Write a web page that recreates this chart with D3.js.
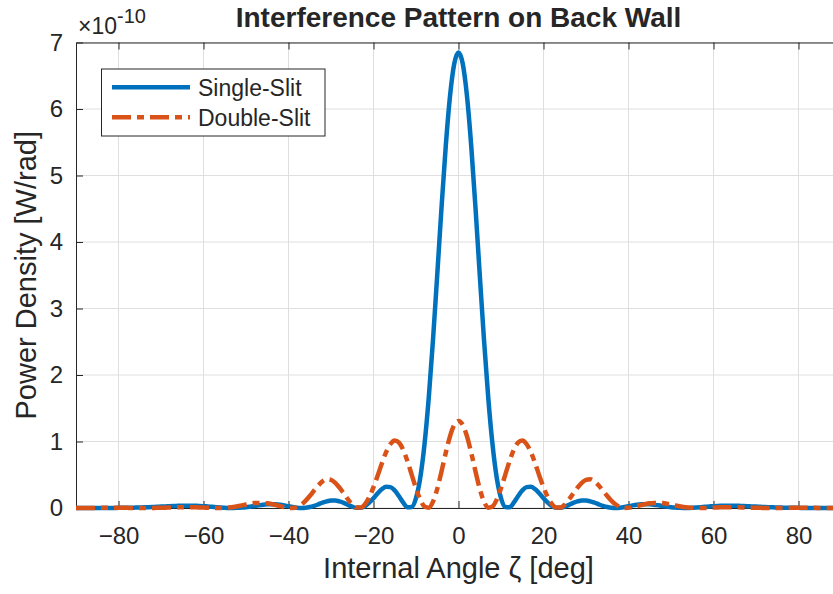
<!DOCTYPE html>
<html>
<head>
<meta charset="utf-8">
<script src="https://cdn.jsdelivr.net/npm/d3@7"></script>
<style>
  body { margin: 0; background: #fff; }
  svg { display: block; }
  text { font-family: "Liberation Sans", Arial, Helvetica, sans-serif; fill: #262626; }
</style>
</head>
<body>
<svg id="chart" width="833" height="594"></svg>
<script>
// Sample angles (deg) for both curves
const angleDeg = d3.range(-90, 91, 1);

// Power density in units of 1e-10 W/rad, one value per degree from -90 to 90
const singleSlit = [
  0.000, 0.000, 0.000, 0.000, 0.000, 0.000, 0.000, 0.000, 0.001, 0.001,
  0.002, 0.002, 0.003, 0.005, 0.006, 0.008, 0.010, 0.012, 0.015, 0.018,
  0.021, 0.024, 0.027, 0.030, 0.032, 0.034, 0.034, 0.034, 0.033, 0.031,
  0.028, 0.023, 0.018, 0.013, 0.008, 0.004, 0.001, 0.000, 0.002, 0.006,
  0.012, 0.021, 0.031, 0.040, 0.049, 0.055, 0.057, 0.055, 0.049, 0.039,
  0.026, 0.014, 0.004, 0.000, 0.003, 0.014, 0.032, 0.055, 0.079, 0.099,
  0.111, 0.112, 0.099, 0.077, 0.047, 0.019, 0.002, 0.004, 0.030, 0.082,
  0.148, 0.222, 0.285, 0.320, 0.314, 0.264, 0.177, 0.080, 0.010, 0.016,
  0.149, 0.452, 0.957, 1.658, 2.528, 3.508, 4.512, 5.440, 6.192, 6.680,
  6.850,
  6.680, 6.192, 5.440, 4.512, 3.508, 2.528, 1.658, 0.957, 0.452, 0.149,
  0.016, 0.010, 0.080, 0.177, 0.264, 0.314, 0.320, 0.285, 0.222, 0.148,
  0.082, 0.030, 0.004, 0.002, 0.019, 0.047, 0.077, 0.099, 0.112, 0.111,
  0.099, 0.079, 0.055, 0.032, 0.014, 0.003, 0.000, 0.004, 0.014, 0.026,
  0.039, 0.049, 0.055, 0.057, 0.055, 0.049, 0.040, 0.031, 0.021, 0.012,
  0.006, 0.002, 0.000, 0.001, 0.004, 0.008, 0.013, 0.018, 0.023, 0.028,
  0.031, 0.033, 0.034, 0.034, 0.034, 0.032, 0.030, 0.027, 0.024, 0.021,
  0.018, 0.015, 0.012, 0.010, 0.008, 0.006, 0.005, 0.003, 0.002, 0.002,
  0.001, 0.001, 0.000, 0.000, 0.000, 0.000, 0.000, 0.000, 0.000, 0.000
];

const doubleSlit = [
  0.000, 0.000, 0.000, 0.000, 0.001, 0.001, 0.002, 0.002, 0.002, 0.003,
  0.003, 0.002, 0.002, 0.001, 0.001, 0.000, 0.000, 0.000, 0.001, 0.002,
  0.003, 0.005, 0.007, 0.008, 0.010, 0.011, 0.012, 0.011, 0.010, 0.008,
  0.006, 0.003, 0.001, 0.000, 0.000, 0.003, 0.008, 0.015, 0.026, 0.039,
  0.052, 0.065, 0.074, 0.077, 0.076, 0.070, 0.059, 0.045, 0.029, 0.013,
  0.002, 0.001, 0.017, 0.052, 0.108, 0.180, 0.261, 0.338, 0.400, 0.432,
  0.423, 0.379, 0.306, 0.219, 0.129, 0.051, 0.006, 0.006, 0.058, 0.164,
  0.313, 0.490, 0.678, 0.843, 0.962, 1.014, 0.982, 0.873, 0.702, 0.499,
  0.298, 0.127, 0.023, 0.005, 0.097, 0.289, 0.549, 0.829, 1.078, 1.249,
  1.310,
  1.249, 1.078, 0.829, 0.549, 0.289, 0.097, 0.005, 0.023, 0.127, 0.298,
  0.499, 0.702, 0.873, 0.982, 1.014, 0.962, 0.843, 0.678, 0.490, 0.313,
  0.164, 0.058, 0.006, 0.006, 0.051, 0.129, 0.219, 0.306, 0.379, 0.423,
  0.432, 0.400, 0.338, 0.261, 0.180, 0.108, 0.052, 0.017, 0.001, 0.002,
  0.013, 0.029, 0.045, 0.059, 0.070, 0.076, 0.077, 0.074, 0.065, 0.052,
  0.039, 0.026, 0.015, 0.008, 0.003, 0.000, 0.000, 0.001, 0.003, 0.006,
  0.008, 0.010, 0.011, 0.012, 0.011, 0.010, 0.008, 0.007, 0.005, 0.003,
  0.002, 0.001, 0.000, 0.000, 0.000, 0.001, 0.001, 0.002, 0.002, 0.003,
  0.003, 0.002, 0.002, 0.002, 0.001, 0.001, 0.000, 0.000, 0.000, 0.000
];

const xTicks = [-80, -60, -40, -20, 0, 20, 40, 60, 80];
const yTicks = [0, 1, 2, 3, 4, 5, 6, 7];
const seriesNames = ["Single-Slit", "Double-Slit"];
const seriesColors = ["#0072BD", "#D95319"];

const svg = d3.select("#chart");
const plot = { left: 76, right: 841, top: 42.5, bottom: 508 };

const x = d3.scaleLinear().domain([-90, 90]).range([plot.left, plot.right]);
const y = d3.scaleLinear().domain([0, 7]).range([plot.bottom, plot.top]);

const axisColor = "#262626";
const gridColor = "#dfdfdf";
const fontStack = '"Liberation Sans", Arial, sans-serif';

// Grid
const grid = svg.append("g");
grid.selectAll(".gx").data(xTicks).join("line")
  .attr("x1", d => x(d)).attr("x2", d => x(d))
  .attr("y1", plot.top).attr("y2", plot.bottom)
  .attr("stroke", gridColor).attr("stroke-width", 1);
grid.selectAll(".gy").data(yTicks).join("line")
  .attr("x1", plot.left).attr("x2", plot.right)
  .attr("y1", d => y(d)).attr("y2", d => y(d))
  .attr("stroke", gridColor).attr("stroke-width", 1);

// Axes (ticks point inward on all four sides)
const fmt = d => (d < 0 ? "\u2212" + Math.abs(d) : String(d));
const gBottom = svg.append("g").attr("transform", `translate(0,${plot.bottom})`)
  .call(d3.axisBottom(x).tickValues(xTicks).tickFormat(fmt).tickSize(-7).tickSizeOuter(0).tickPadding(19));
const gTop = svg.append("g").attr("transform", `translate(0,${plot.top})`)
  .call(d3.axisTop(x).tickValues(xTicks).tickFormat("").tickSize(-7).tickSizeOuter(0));
const gLeft = svg.append("g").attr("transform", `translate(${plot.left},0)`)
  .call(d3.axisLeft(y).tickValues(yTicks).tickFormat(fmt).tickSize(-7).tickSizeOuter(0).tickPadding(13));
const gRight = svg.append("g").attr("transform", `translate(${plot.right},0)`)
  .call(d3.axisRight(y).tickValues(yTicks).tickFormat("").tickSize(-7).tickSizeOuter(0));

[gBottom, gTop, gLeft, gRight].forEach(g => {
  g.select(".domain").attr("stroke", axisColor).attr("stroke-width", 1);
  g.selectAll(".tick line").attr("stroke", axisColor).attr("stroke-width", 1);
  g.selectAll(".tick text").attr("fill", axisColor)
    .style("font-size", "24px").style("font-family", fontStack);
});

// Curves
const line = d3.line()
  .x((d, i) => x(angleDeg[i]))
  .y(d => y(d))
  .curve(d3.curveMonotoneX);

svg.append("path").datum(singleSlit)
  .attr("d", line).attr("fill", "none")
  .attr("stroke", seriesColors[0]).attr("stroke-width", 4.5)
  .attr("stroke-linejoin", "round");

svg.append("path").datum(doubleSlit)
  .attr("d", line).attr("fill", "none")
  .attr("stroke", seriesColors[1]).attr("stroke-width", 4.5)
  .attr("stroke-dasharray", "19,6,7,6");

// Exponent label
const expo = svg.append("text").attr("x", 78).attr("y", 34).style("font-size", "23px");
expo.append("tspan").text("\u00D710");
expo.append("tspan").attr("dy", -11).style("font-size", "20px").text("-10");

// Title
svg.append("text")
  .attr("x", (plot.left + plot.right) / 2).attr("y", 27)
  .attr("text-anchor", "middle")
  .style("font-size", "28px").style("font-weight", "bold").attr("fill", "#000")
  .text("Interference Pattern on Back Wall");

// Axis labels
svg.append("text")
  .attr("x", (plot.left + plot.right) / 2).attr("y", 578)
  .attr("text-anchor", "middle").style("font-size", "29px")
  .text("Internal Angle \u03B6 [deg]");

svg.append("text")
  .attr("transform", `translate(36,${(plot.top + plot.bottom) / 2}) rotate(-90)`)
  .attr("text-anchor", "middle").style("font-size", "29px")
  .text("Power Density [W/rad]");

// Legend
const legend = svg.append("g");
legend.append("rect")
  .attr("x", 101.5).attr("y", 69).attr("width", 223.5).attr("height", 67)
  .attr("fill", "#fff").attr("stroke", axisColor).attr("stroke-width", 1);
const legendRows = [87.3, 117.3];
seriesNames.forEach((name, i) => {
  legend.append("line")
    .attr("x1", 112).attr("x2", 190)
    .attr("y1", legendRows[i]).attr("y2", legendRows[i])
    .attr("stroke", seriesColors[i]).attr("stroke-width", 4.5)
    .attr("stroke-dasharray", i === 1 ? "19,6,7,6" : null);
  legend.append("text")
    .attr("x", 198).attr("y", legendRows[i] + 8.7)
    .style("font-size", "23px").attr("fill", "#000")
    .text(name);
});
</script>
</body>
</html>
